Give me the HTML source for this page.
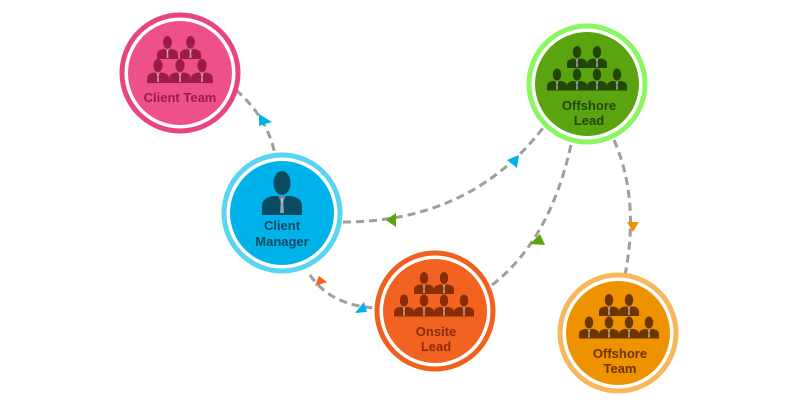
<!DOCTYPE html>
<html><head><style>html,body{margin:0;padding:0;background:#fff}svg{display:block}text{font-family:"Liberation Sans",sans-serif;font-weight:bold;text-anchor:middle}</style></head>
<body>
<svg width="800" height="410" viewBox="0 0 800 410" xmlns="http://www.w3.org/2000/svg">
<defs>
<symbol id="p" viewBox="0 0 40 44">
<ellipse cx="20" cy="12" rx="8.5" ry="12"/>
<path d="M0 44 L0 35 Q0 27 11 25 L29 25 Q40 27 40 35 L40 44Z"/>
<path d="M16 25 L20 33 L24 25Z" fill="#fff" opacity=".35"/>
<path d="M19 27 L21 27 L22 42 L18 42Z" fill="#fff" opacity=".5"/>
</symbol>
</defs>
<g fill="none" stroke="#9e9e9e" stroke-width="3" stroke-dasharray="8 5">
<path d="M236 90 Q268 118 275 155"/>
<path d="M343 222 Q470 222 543 128"/>
<path d="M571 145 Q550 240 492 285"/>
<path d="M614 140 Q640 200 625 275"/>
<path d="M310 275 Q330 305 375 308"/>
</g>
<polygon points="259,114 272,122 259,126" fill="#00b2ea"/>
<polygon points="386,220 396,213 396,227" fill="#5aa50f"/>
<polygon points="507,160 519,155 517,168" fill="#00b2ea"/>
<polygon points="530,244 540,234 545,245" fill="#5aa50f"/>
<polygon points="627,222 639,222 633,232" fill="#ee9200"/>
<polygon points="315,286 319,276 327,282" fill="#f26322"/>
<polygon points="355,313 364,302 367,312" fill="#00b2ea"/>
<!-- Client Team -->
<circle cx="180" cy="73" r="58" fill="#fff" stroke="#e8447f" stroke-width="5"/>
<circle cx="180" cy="73" r="52" fill="#ee5189"/>
<g fill="#9c1b47"><use href="#p" x="157" y="36" width="21" height="23"/><use href="#p" x="180" y="36" width="21" height="23"/>
<use href="#p" x="147" y="59" width="22" height="24"/><use href="#p" x="169" y="59" width="22" height="24"/><use href="#p" x="191" y="59" width="22" height="24"/></g>
<text x="180" y="102" font-size="13" fill="#9c1b47">Client Team</text>
<!-- Client Manager -->
<circle cx="282" cy="213" r="58" fill="#fff" stroke="#5ad4f5" stroke-width="5"/>
<circle cx="282" cy="213" r="52" fill="#00b2ea"/>
<use href="#p" x="261" y="171" width="42" height="44" fill="#0b4a63"/>
<text x="282" y="230" font-size="13" fill="#0b4a63">Client</text>
<text x="282" y="246" font-size="13" fill="#0b4a63">Manager</text>
<!-- Offshore Lead -->
<circle cx="587" cy="84" r="58" fill="#fff" stroke="#8cf562" stroke-width="5"/>
<circle cx="587" cy="84" r="52" fill="#5aa50f"/>
<g fill="#234508"><use href="#p" x="567" y="46" width="20" height="22"/><use href="#p" x="587" y="46" width="20" height="22"/>
<use href="#p" x="547" y="68" width="20" height="23"/><use href="#p" x="567" y="68" width="20" height="23"/><use href="#p" x="587" y="68" width="20" height="23"/><use href="#p" x="607" y="68" width="20" height="23"/></g>
<text x="589" y="110" font-size="13" fill="#234508">Offshore</text>
<text x="589" y="125" font-size="13" fill="#234508">Lead</text>
<!-- Onsite Lead -->
<circle cx="435" cy="311" r="58" fill="#fff" stroke="#f0601f" stroke-width="5"/>
<circle cx="435" cy="311" r="52" fill="#f26322"/>
<g fill="#8a2c05"><use href="#p" x="414" y="272" width="20" height="22"/><use href="#p" x="434" y="272" width="20" height="22"/>
<use href="#p" x="394" y="294" width="20" height="23"/><use href="#p" x="414" y="294" width="20" height="23"/><use href="#p" x="434" y="294" width="20" height="23"/><use href="#p" x="454" y="294" width="20" height="23"/></g>
<text x="436" y="336" font-size="13" fill="#8a2c05">Onsite</text>
<text x="436" y="351" font-size="13" fill="#8a2c05">Lead</text>
<!-- Offshore Team -->
<circle cx="618" cy="333" r="58" fill="#fff" stroke="#f7b75a" stroke-width="5"/>
<circle cx="618" cy="333" r="52" fill="#ee9200"/>
<g fill="#6b3500"><use href="#p" x="599" y="294" width="20" height="22"/><use href="#p" x="619" y="294" width="20" height="22"/>
<use href="#p" x="579" y="316" width="20" height="23"/><use href="#p" x="599" y="316" width="20" height="23"/><use href="#p" x="619" y="316" width="20" height="23"/><use href="#p" x="639" y="316" width="20" height="23"/></g>
<text x="620" y="358" font-size="13" fill="#6b3500">Offshore</text>
<text x="620" y="373" font-size="13" fill="#6b3500">Team</text>
</svg>
</body></html>
